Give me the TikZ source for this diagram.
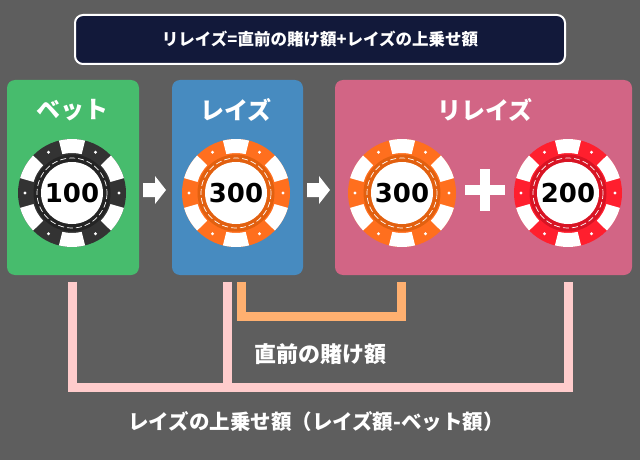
\documentclass[tikz,border=0pt]{standalone}
\usepackage{fontspec}
\usepackage{xcolor}
\newfontfamily\jpfont{Noto Sans CJK JP}
\newfontfamily\numfont{DejaVu Sans}
\usetikzlibrary{calc}

\definecolor{bggray}{HTML}{5E5E5E}
\definecolor{navy}{HTML}{12193A}
\definecolor{betgreen}{HTML}{47BC6D}
\definecolor{raiseblue}{HTML}{478BC0}
\definecolor{reraisepink}{HTML}{D26585}
\definecolor{lightpink}{HTML}{FFCCCC}
\definecolor{lightorange}{HTML}{FFB070}
\definecolor{chipblack}{HTML}{333333}
\definecolor{chipblackdark}{HTML}{242424}
\definecolor{chiporange}{HTML}{FF6F1E}
\definecolor{chiporangedark}{HTML}{E2600F}
\definecolor{chipred}{HTML}{FF1F2E}
\definecolor{chipreddark}{HTML}{D81424}

\tikzset{
  panel/.style={rounded corners=8pt, minimum height=195pt, inner sep=0pt},
  paneltitle/.style={text=white, font=\jpfont\bfseries\fontsize{24}{24}\selectfont, inner sep=0pt},
  chipnum/.style={font=\numfont\bfseries\fontsize{26}{26}\selectfont, inner sep=0pt},
  pinkline/.style={draw=lightpink, line width=9pt},
  orangeline/.style={draw=lightorange, line width=9pt},
  note/.style={text=white, font=\jpfont\bfseries, inner sep=0pt}
}

% chip: name, centre, colour, inner colour, value
\newcommand{\drawchip}[5]{%
  \begin{scope}[shift={#2}]
    \fill[#3] (0,0) circle[radius=54];
    \foreach \a in {30,90,...,330}
      \fill[white] ({\a-14}:54) arc[start angle=\a-14, end angle=\a+14, radius=54]
        -- ({\a+14}:40) arc[start angle=\a+14, end angle=\a-14, radius=40] -- cycle;
    \foreach \a in {0,60,...,300}
      \fill[white] (\a:47) circle[radius=1.6];
    \fill[#4] (0,0) circle[radius=38.5];
    \draw[white, line width=0.7pt, dash pattern=on 6pt off 3pt] (0,0) circle[radius=35];
    \fill[white] (0,0) circle[radius=31];
  \end{scope}
  \node[chipnum] (#1) at #2 {#5};
}

\begin{document}
\begin{tikzpicture}[x=1pt,y=-1pt]
  \useasboundingbox (0,0) rectangle (640,460);
  \fill[bggray] (0,0) rectangle (640,460);

  % formula
  \node[draw=white, line width=2pt, fill=navy, rounded corners=8pt,
        minimum width=490pt, minimum height=49pt, text=white,
        font=\jpfont\bfseries\fontsize{16.5}{16.5}\selectfont] (formula) at (320,39.5)
        {リレイズ=直前の賭け額+レイズの上乗せ額};

  % panels
  \node[panel, fill=betgreen, minimum width=132pt] (bet) at (73,177.5) {};
  \node[panel, fill=raiseblue, minimum width=131pt] (raise) at (237.5,177.5) {};
  \node[panel, fill=reraisepink, minimum width=297pt] (reraise) at (483.5,177.5) {};

  \node[paneltitle] (bettitle) at (72,110) {ベット};
  \node[paneltitle] (raisetitle) at (236,110) {レイズ};
  \node[paneltitle] (reraisetitle) at (485,110) {リレイズ};

  % chips
  \drawchip{chipbet}{(72,193)}{chipblack}{chipblackdark}{100}
  \drawchip{chipraise}{(236,193)}{chiporange}{chiporangedark}{300}
  \drawchip{chipprev}{(402,193)}{chiporange}{chiporangedark}{300}
  \drawchip{chipextra}{(568,193)}{chipred}{chipreddark}{200}

  % arrows
  \foreach \x in {143,307}
    \fill[white] (\x,183) -- (\x+12,183) -- (\x+12,176) -- (\x+23,190)
      -- (\x+12,204) -- (\x+12,197) -- (\x,197) -- cycle;

  % plus
  \draw[white, line width=9.5pt] (465,190) -- (505,190) (485,169) -- (485,211);

  % brackets
  \coordinate (betfoot) at (72.8,281.7);
  \coordinate (raisefoot) at (227,281.7);
  \coordinate (extrafoot) at (568,281.7);
  \coordinate (prevleft) at (241,281.7);
  \coordinate (prevright) at (401,281.7);
  \coordinate (pinkbase) at (0,387.8);
  \coordinate (orangebase) at (0,316.3);

  \draw[orangeline] (prevleft) |- (prevright |- orangebase) -- (prevright);
  \draw[pinkline] (betfoot) |- (extrafoot |- pinkbase) -- (extrafoot);
  \draw[pinkline] (raisefoot) -- (raisefoot |- pinkbase);

  \node[note, font=\jpfont\bfseries\fontsize{22}{22}\selectfont] (prevlabel) at (320,354) {直前の賭け額};
  \node[note, font=\jpfont\bfseries\fontsize{20.5}{20.5}\selectfont] (extralabel) at (316,422) {レイズの上乗せ額（レイズ額-ベット額）};
\end{tikzpicture}
\end{document}
